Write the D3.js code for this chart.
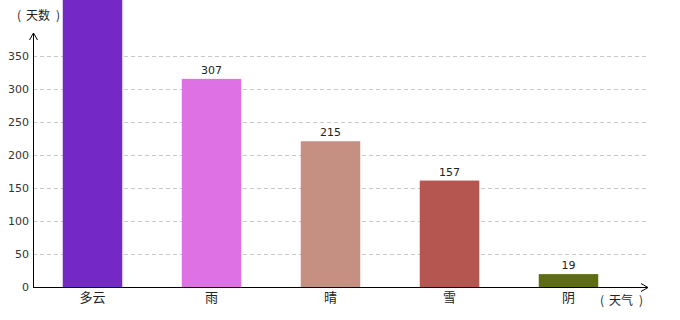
<!DOCTYPE html>
<html>
<head>
<meta charset="utf-8">
<script src="https://cdn.jsdelivr.net/npm/d3@7"></script>
<style>
body { margin: 0; background: #fff; }
text { font-family: "DejaVu Sans", "Noto Sans CJK SC", sans-serif; }
.cjk { font-family: "Noto Sans CJK SC", sans-serif; }
</style>
</head>
<body>
<div class="chart"></div>
<script>
// 数据
var categories = ["多云", "雨", "晴", "雪", "阴"]
var values = [452, 307, 215, 157, 19]
var colors = ["#7428c6", "#de72e4", "#c58f81", "#b65650", "#5e6c12"]
var yTicks = [0, 50, 100, 150, 200, 250, 300, 350]

var width = 680, height = 320
var left = 33, bottom = 287

var svg = d3.select(".chart").append("svg")
    .attr("width", width).attr("height", height)

var x = d3.scaleBand().domain(categories).range([left, 628])
    .paddingInner(0.5).paddingOuter(0.25)

// 刻度轴
var yAxisScale = d3.scaleLinear().domain([0, 350]).range([bottom, 56])
// 柱子比例
var yBar = d3.scaleLinear().domain([0, 340]).range([bottom, 56.5])

// 网格线
svg.append("g").selectAll("line").data(yTicks.slice(1)).enter()
    .append("line")
    .attr("x1", left).attr("x2", 648)
    .attr("y1", function(d){ return Math.round(yAxisScale(d)) + 0.5 })
    .attr("y2", function(d){ return Math.round(yAxisScale(d)) + 0.5 })
    .attr("stroke", "#c8c8c8").attr("stroke-dasharray", "4,3")

// 柱子
svg.selectAll("rect").data(values).enter().append("rect")
    .attr("x", function(d, i){ return x(categories[i]) })
    .attr("y", function(d){ return yBar(d) })
    .attr("width", x.bandwidth())
    .attr("height", function(d){ return bottom - yBar(d) })
    .attr("fill", function(d, i){ return colors[i] })

// 数值标签 (超出画面的不画)
svg.selectAll(".val").data(values.filter(function(d){ return yBar(d) > 15 })).enter().append("text")
    .attr("class", "val")
    .attr("x", function(d){ return x(categories[values.indexOf(d)]) + x.bandwidth() / 2 })
    .attr("y", function(d){ return yBar(d) - 5 })
    .attr("text-anchor", "middle")
    .attr("font-size", "11px").attr("fill", "#222")
    .text(function(d){ return d })

// y轴刻度文字
svg.append("g").selectAll("text").data(yTicks).enter().append("text")
    .attr("x", 29)
    .attr("y", function(d){ return yAxisScale(d) + 4 })
    .attr("text-anchor", "end")
    .attr("font-size", "11px").attr("fill", "#333")
    .text(function(d){ return d })

// x轴类别
svg.append("g").selectAll("text").data(categories).enter().append("text")
    .attr("class", "cjk")
    .attr("x", function(d){ return x(d) + x.bandwidth() / 2 })
    .attr("y", 302)
    .attr("text-anchor", "middle")
    .attr("font-size", "13px").attr("fill", "#222")
    .text(function(d){ return d })

// 坐标轴
svg.append("line").attr("x1", left + 0.5).attr("x2", left + 0.5)
    .attr("y1", 34).attr("y2", bottom + 1).attr("stroke", "#000")
svg.append("line").attr("x1", left).attr("x2", 647)
    .attr("y1", bottom + 0.5).attr("y2", bottom + 0.5).attr("stroke", "#000")
svg.append("path").attr("d", "M29.5,40L33.5,33L37.5,40")
    .attr("fill", "none").attr("stroke", "#000")
svg.append("path").attr("d", "M641,283.5L648,287.5L641,291.5")
    .attr("fill", "none").attr("stroke", "#000")

// 轴标题
function axisTitle(x0, y0, label) {
    var t = svg.append("text").attr("class", "cjk").attr("y", y0)
        .attr("font-size", "12px").attr("fill", "#222")
    t.append("tspan").attr("x", x0).text("(")
    t.append("tspan").attr("x", x0 + 9).text(label)
    t.append("tspan").attr("x", x0 + 39).text(")")
}
axisTitle(17, 20, "天数")
axisTitle(600, 305, "天气")
</script>
</body>
</html>
